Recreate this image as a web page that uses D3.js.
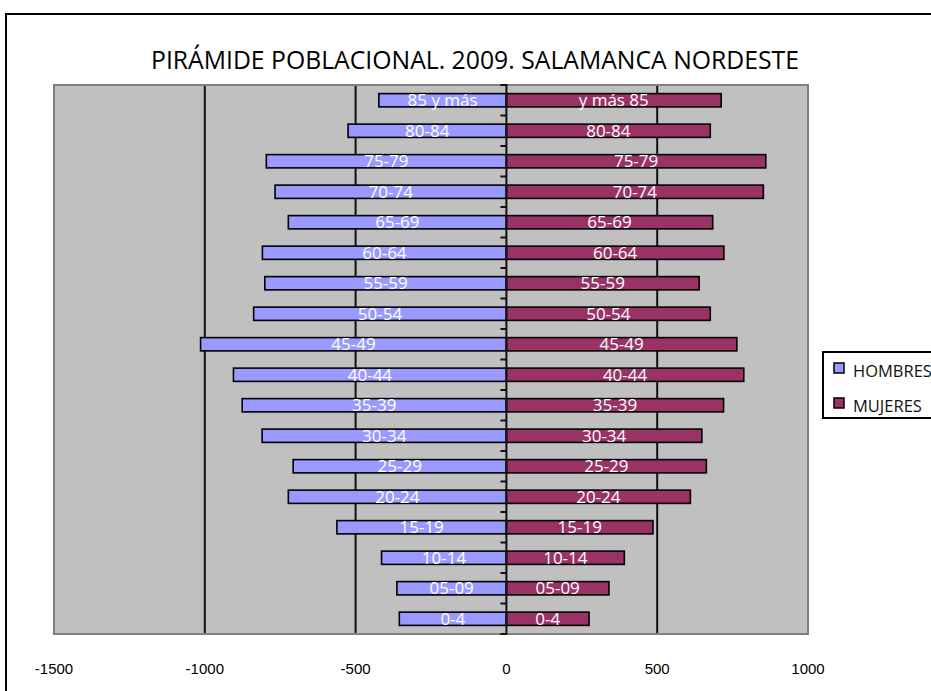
<!DOCTYPE html>
<html lang="es">
<head>
<meta charset="UTF-8">
<title>Pirámide poblacional 2009</title>
<script src="https://d3js.org/d3.v7.min.js"></script>
<style>
  body { margin: 0; background: #fff; }
</style>
</head>
<body>
<div id="my_dataviz"></div>

<script>
// age groups, top to bottom
var grupos = ["85 y más", "80-84", "75-79", "70-74", "65-69", "60-64", "55-59", "50-54", "45-49",
              "40-44", "35-39", "30-34", "25-29", "20-24", "15-19", "10-14", "05-09", "0-4"];
// labels shown on the women's bars (first one is written the other way round)
var gruposMujeres = ["y más 85", "80-84", "75-79", "70-74", "65-69", "60-64", "55-59", "50-54", "45-49",
                     "40-44", "35-39", "30-34", "25-29", "20-24", "15-19", "10-14", "05-09", "0-4"];
// men are stored negative, as in the sheet
var hombres = [-423, -525, -796, -767, -723, -809, -801, -838, -1014,
               -905, -876, -810, -707, -723, -562, -414, -363, -355];
var mujeres = [712, 676, 860, 852, 684, 721, 639, 676, 764,
               787, 720, 648, 663, 610, 486, 391, 340, 274];
var ticksX = [-1500, -1000, -500, 0, 500, 1000];
var gridX = [-1000, -500, 500];
var series = ["HOMBRES", "MUJERES"];

var W = 931, H = 691;
var plot = {left: 54, right: 808, top: 85, bottom: 634};
var colorH = "#9999ff", colorM = "#993366";

var svg = d3.select("#my_dataviz")
  .append("svg")
    .attr("width", W)
    .attr("height", H);

// chart area border (runs off the right and bottom of the picture)
svg.append("rect")
  .attr("x", 6).attr("y", 14)
  .attr("width", W + 20).attr("height", H + 20)
  .attr("fill", "#fff")
  .attr("stroke", "#000")
  .attr("stroke-width", 2);

// title
svg.append("text")
  .attr("x", 475).attr("y", 69)
  .attr("text-anchor", "middle")
  .attr("font-family", "'Open Sans', sans-serif")
  .attr("font-size", "25px")
  .attr("textLength", 648)
  .attr("lengthAdjust", "spacingAndGlyphs")
  .attr("fill", "#000")
  .text("PIRÁMIDE POBLACIONAL. 2009. SALAMANCA NORDESTE");

var x = d3.scaleLinear()
  .domain([-1500, 1000])
  .range([plot.left, plot.right]);

var y = d3.scaleBand()
  .domain(grupos)
  .range([plot.top, plot.bottom])
  .paddingInner(0.565)
  .paddingOuter(0.2825);

// plot area
svg.append("rect")
  .attr("x", plot.left).attr("y", plot.top)
  .attr("width", plot.right - plot.left)
  .attr("height", plot.bottom - plot.top)
  .attr("fill", "#c0c0c0")
  .attr("stroke", "#808080")
  .attr("stroke-width", 2);

// vertical gridlines
svg.selectAll(".grid")
  .data(gridX)
  .enter()
  .append("line")
    .attr("x1", function(d){ return x(d) })
    .attr("x2", function(d){ return x(d) })
    .attr("y1", plot.top + 1)
    .attr("y2", plot.bottom - 1)
    .attr("stroke", "#111")
    .attr("stroke-width", 2);

// bars
svg.selectAll(".barH")
  .data(hombres)
  .enter()
  .append("rect")
    .attr("x", function(d){ return x(d) })
    .attr("y", function(d, i){ return y(grupos[i]) })
    .attr("width", function(d){ return x(0) - x(d) })
    .attr("height", y.bandwidth())
    .attr("fill", colorH)
    .attr("stroke", "#000")
    .attr("stroke-width", 1.6);

svg.selectAll(".barM")
  .data(mujeres)
  .enter()
  .append("rect")
    .attr("x", x(0))
    .attr("y", function(d, i){ return y(grupos[i]) })
    .attr("width", function(d){ return x(d) - x(0) })
    .attr("height", y.bandwidth())
    .attr("fill", colorM)
    .attr("stroke", "#000")
    .attr("stroke-width", 1.6);

// category axis on zero, ticks between groups pointing left
var bounds = grupos.map(function(g){ return y(g) - y.step() * y.paddingInner() / 2 });
bounds[0] = plot.top;
bounds.push(plot.bottom);

svg.append("line")
  .attr("x1", x(0)).attr("x2", x(0))
  .attr("y1", plot.top - 1).attr("y2", plot.bottom + 1)
  .attr("stroke", "#111")
  .attr("stroke-width", 2);

svg.selectAll(".tickY")
  .data(bounds)
  .enter()
  .append("line")
    .attr("x1", x(0) - 6)
    .attr("x2", x(0))
    .attr("y1", function(d){ return d })
    .attr("y2", function(d){ return d })
    .attr("stroke", "#111")
    .attr("stroke-width", 2);

// labels in the middle of each bar
function barLabels(vals, names) {
  svg.selectAll(null)
    .data(vals)
    .enter()
    .append("text")
      .attr("x", function(d){ return (x(d) + x(0)) / 2 })
      .attr("y", function(d, i){ return y(grupos[i]) + y.bandwidth() / 2 })
      .attr("dy", "0.36em")
      .attr("text-anchor", "middle")
      .attr("font-family", "'Open Sans', sans-serif")
      .attr("font-size", "17px")
      .attr("fill", "#fff")
      .text(function(d, i){ return names[i] });
}
barLabels(hombres, grupos);
barLabels(mujeres, gruposMujeres);

// value axis labels
svg.selectAll(".tickX")
  .data(ticksX)
  .enter()
  .append("text")
    .attr("x", function(d){ return x(d) })
    .attr("y", 674)
    .attr("text-anchor", "middle")
    .attr("font-family", "'Liberation Sans Narrow', 'Liberation Sans', sans-serif")
    .attr("font-size", "15px")
    .attr("fill", "#000")
    .text(function(d){ return d });

// legend
var legend = svg.append("g");
legend.append("rect")
  .attr("x", 823).attr("y", 352)
  .attr("width", 140).attr("height", 66)
  .attr("fill", "#fff")
  .attr("stroke", "#000")
  .attr("stroke-width", 2);

legend.selectAll(".sw")
  .data(series)
  .enter()
  .append("rect")
    .attr("x", 834)
    .attr("y", function(d, i){ return 363 + i * 35 })
    .attr("width", 10).attr("height", 10)
    .attr("fill", function(d, i){ return i == 0 ? colorH : colorM })
    .attr("stroke", "#000")
    .attr("stroke-width", 1.5);

legend.selectAll(".lt")
  .data(series)
  .enter()
  .append("text")
    .attr("x", 853)
    .attr("y", function(d, i){ return 377 + i * 35 })
    .attr("font-family", "'Open Sans', sans-serif")
    .attr("font-size", "16.5px")
    .attr("fill", "#111")
    .text(function(d){ return d });
</script>
</body>
</html>
